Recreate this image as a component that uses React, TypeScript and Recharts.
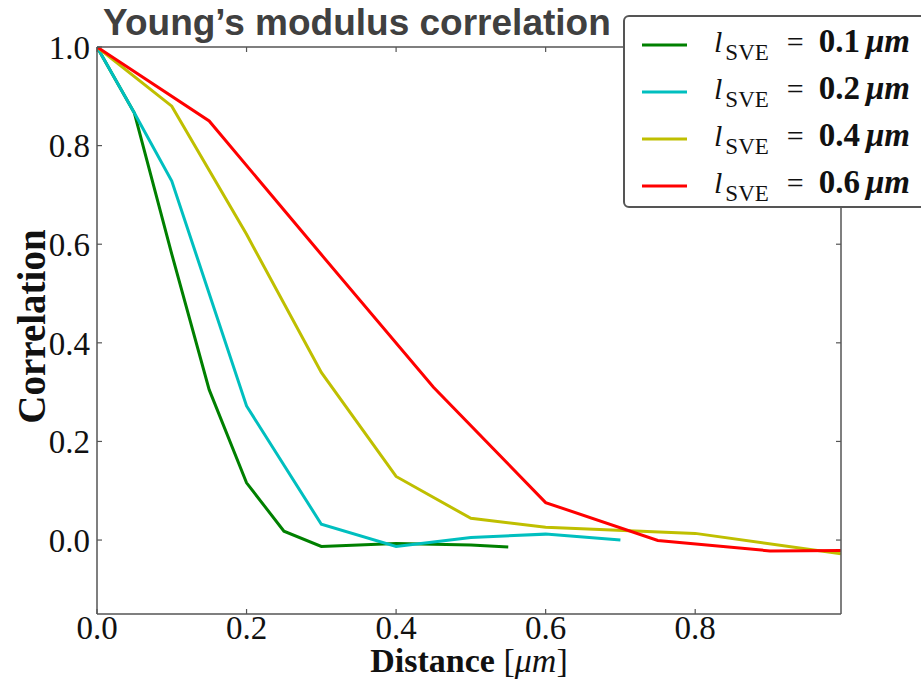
import React from 'react';
import { LineChart, Line, XAxis, YAxis, Legend } from 'recharts';

// ---- data ----
const seriesNames = ['0.1', '0.2', '0.4', '0.6'];
const seriesColors = ['#008000', '#00bfbf', '#bfbf00', '#ff0000'];

const xSve01 = [0, 0.05, 0.1, 0.15, 0.2, 0.25, 0.3, 0.4, 0.5, 0.55];
const ySve01 = [1.0, 0.866, 0.58, 0.305, 0.116, 0.018, -0.013, -0.007, -0.01, -0.014];

const xSve02 = [0, 0.05, 0.1, 0.2, 0.3, 0.4, 0.5, 0.6, 0.7];
const ySve02 = [1.0, 0.866, 0.728, 0.272, 0.032, -0.013, 0.005, 0.012, 0.0];

const xSve04 = [0, 0.1, 0.2, 0.3, 0.4, 0.5, 0.6, 0.8, 0.995];
const ySve04 = [1.0, 0.88, 0.62, 0.34, 0.129, 0.044, 0.026, 0.0135, -0.028];

const xSve06 = [0, 0.15, 0.3, 0.45, 0.6, 0.75, 0.9, 0.995];
const ySve06 = [1.0, 0.85, 0.579, 0.31, 0.076, -0.001, -0.022, -0.021];

const xTicks = [0, 0.2, 0.4, 0.6, 0.8];
const yTicks = [0, 0.2, 0.4, 0.6, 0.8, 1.0];
const xDomain: [number, number] = [0, 0.995];
const yDomain: [number, number] = [-0.15, 1.0];

const titleText = 'Young\u2019s modulus correlation';

const toPoints = (xs: number[], ys: number[]) => xs.map((x, i) => ({ x, y: ys[i] }));
const seriesData = [
  toPoints(xSve01, ySve01),
  toPoints(xSve02, ySve02),
  toPoints(xSve04, ySve04),
  toPoints(xSve06, ySve06),
];

const SPINE = '#555555';
const SERIF = '"Liberation Serif", "DejaVu Serif", serif';
const tickStyle = { fontFamily: SERIF, fontSize: 33, fill: '#111' };
const fmt = (v: number) => v.toFixed(1);
const noLabel = () => <g />;

const renderLegend = (props: any) => {
  const payload = props.payload || [];
  return (
    <div
      style={{
        boxSizing: 'border-box',
        width: 304,
        height: 193,
        border: `2px solid ${SPINE}`,
        borderRadius: 6,
        background: '#fff',
        paddingTop: 4,
        paddingLeft: 17,
      }}
    >
      {payload.map((entry: any, i: number) => (
        <div key={i} style={{ display: 'flex', alignItems: 'center', height: 47 }}>
          <svg width={45} height={6} style={{ display: 'block' }}>
            <line x1={0} y1={3} x2={45} y2={3} stroke={entry.color} strokeWidth={3} />
          </svg>
          <span
            style={{
              marginLeft: 27,
              fontFamily: SERIF,
              fontSize: 30,
              color: '#111',
              whiteSpace: 'nowrap',
              lineHeight: 1,
              position: 'relative',
              top: -3,
            }}
          >
            <i>l</i>
            <span style={{ fontSize: 23, position: 'relative', top: 8, marginLeft: 3 }}>SVE</span>
            <span style={{ margin: '0 15px 0 18px' }}>=</span>
            <b style={{ fontSize: 33 }}>{entry.value}</b>
            <b style={{ marginLeft: 6, fontSize: 33 }}>
              <i>μm</i>
            </b>
          </span>
        </div>
      ))}
    </div>
  );
};

export default function App() {
  return (
    <div
      style={{
        position: 'absolute',
        left: 0,
        top: 0,
        width: 921,
        height: 679,
        overflow: 'hidden',
        background: '#fff',
      }}
    >
      <LineChart width={921} height={679} margin={{ top: 46, right: 79, bottom: 0, left: 0 }}>
        <XAxis
          xAxisId={0}
          dataKey="x"
          type="number"
          domain={xDomain}
          ticks={xTicks}
          tickFormatter={fmt}
          height={65}
          tickSize={-5}
          tickMargin={7}
          tick={tickStyle}
          axisLine={{ stroke: SPINE, strokeWidth: 1.5 }}
          tickLine={{ stroke: SPINE, strokeWidth: 1.2 }}
          allowDataOverflow
          label={{
            content: (p: any) => {
              const vb = p.viewBox || {};
              return (
                <text
                  x={vb.x + vb.width / 2}
                  y={vb.y + 58}
                  textAnchor="middle"
                  fontFamily={SERIF}
                  fontSize={34}
                  fontWeight="bold"
                  fill="#111"
                >
                  Distance
                  <tspan fontWeight="normal"> [</tspan>
                  <tspan fontWeight="normal" fontStyle="italic">μm</tspan>
                  <tspan fontWeight="normal">]</tspan>
                </text>
              );
            },
          }}
        />
        <XAxis
          xAxisId="top"
          orientation="top"
          dataKey="x"
          type="number"
          domain={xDomain}
          ticks={xTicks}
          height={1}
          tickSize={-5}
          tick={noLabel}
          axisLine={{ stroke: SPINE, strokeWidth: 1.5 }}
          tickLine={{ stroke: SPINE, strokeWidth: 1.2 }}
          allowDataOverflow
        />
        <YAxis
          yAxisId={0}
          type="number"
          domain={yDomain}
          ticks={yTicks}
          tickFormatter={fmt}
          width={97}
          tickSize={-5}
          tickMargin={12}
          tick={tickStyle}
          axisLine={{ stroke: SPINE, strokeWidth: 1.5 }}
          tickLine={{ stroke: SPINE, strokeWidth: 1.2 }}
          allowDataOverflow
          label={{
            content: (p: any) => {
              const vb = p.viewBox || {};
              const cx = 45;
              const cy = vb.y + vb.height / 2 - 4;
              return (
                <text
                  x={cx}
                  y={cy}
                  transform={`rotate(-90, ${cx}, ${cy})`}
                  textAnchor="middle"
                  fontFamily={SERIF}
                  fontSize={39}
                  fontWeight="bold"
                  fill="#111"
                >
                  Correlation
                </text>
              );
            },
          }}
        />
        <YAxis
          yAxisId="right"
          orientation="right"
          type="number"
          domain={yDomain}
          ticks={yTicks}
          width={1}
          tickSize={-5}
          tick={noLabel}
          axisLine={{ stroke: SPINE, strokeWidth: 1.5 }}
          tickLine={{ stroke: SPINE, strokeWidth: 1.2 }}
          allowDataOverflow
        />
        {seriesData.map((d, i) => (
          <Line
            key={seriesNames[i]}
            data={d}
            dataKey="y"
            name={seriesNames[i]}
            xAxisId={0}
            yAxisId={0}
            type="linear"
            stroke={seriesColors[i]}
            strokeWidth={3}
            dot={false}
            activeDot={false}
            isAnimationActive={false}
          />
        ))}
        <Legend
          layout="vertical"
          align="center"
          verticalAlign="middle"
          content={renderLegend}
          wrapperStyle={{ top: 15, left: 623, width: 304, height: 193 }}
        />
      </LineChart>
      <svg
        width={921}
        height={60}
        style={{ position: 'absolute', left: 0, top: 0, pointerEvents: 'none' }}
      >
        <text
          x={103}
          y={35}
          fontFamily='"Liberation Sans", Arial, sans-serif'
          fontSize={37}
          fontWeight="bold"
          fill="#404040"
        >
          {titleText}
        </text>
      </svg>
    </div>
  );
}
